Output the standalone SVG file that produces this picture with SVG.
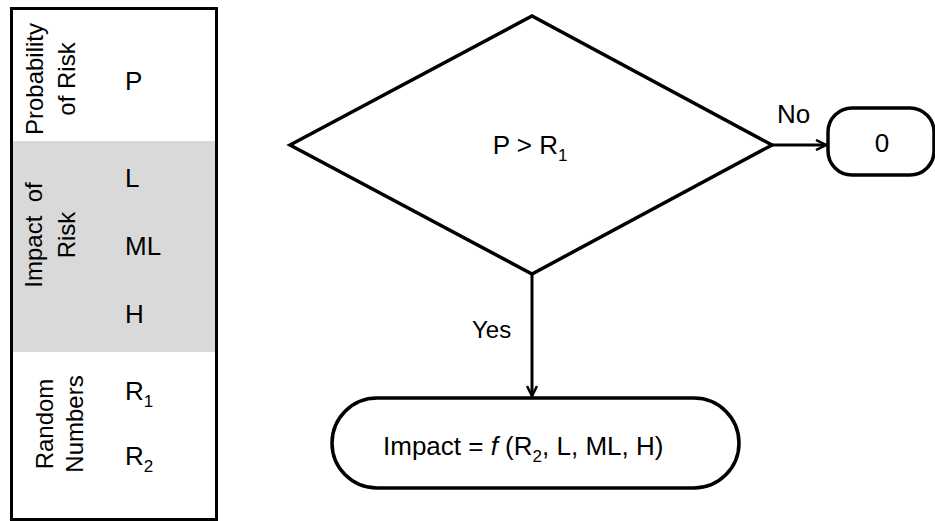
<svg xmlns="http://www.w3.org/2000/svg" width="935" height="521" viewBox="0 0 935 521">
  <style>
    text { font-family: "Liberation Sans", Arial, sans-serif; font-size: 26px; fill: #000; }
    .mid { text-anchor: middle; }
    .side { font-size: 24px; }
    .shape { fill: #fff; stroke: #000; stroke-width: 3.5; }
    .edge { fill: none; stroke: #000; stroke-width: 3; }
    .sub { font-size: 17px; }
  </style>
  <defs>
    <marker id="arrow" viewBox="0 0 12 12" refX="11" refY="6" markerWidth="12" markerHeight="12" markerUnits="userSpaceOnUse" orient="auto">
      <path d="M1,1 L11,6 L1,11" fill="none" stroke="#000" stroke-width="2.5" stroke-linejoin="miter"/>
    </marker>
  </defs>
  <rect width="935" height="521" fill="#fff"/>

  <!-- input table -->
  <g id="table">
    <rect x="13" y="141" width="204" height="211" fill="#d9d9d9"/>
    <rect x="11.5" y="8.5" width="205" height="511" fill="none" stroke="#000" stroke-width="3"/>
    <text class="mid side" transform="translate(43,79) rotate(-90)">Probability</text>
    <text class="mid side" transform="translate(75,79) rotate(-90)">of Risk</text>
    <text x="125" y="90">P</text>
    <text class="mid side" transform="translate(42,235) rotate(-90)">Impact&#160; of</text>
    <text class="mid side" transform="translate(75,235) rotate(-90)">Risk</text>
    <text x="125" y="187">L</text>
    <text x="125" y="255">ML</text>
    <text x="125" y="323">H</text>
    <text class="mid side" transform="translate(53,424) rotate(-90)">Random</text>
    <text class="mid side" transform="translate(83,424) rotate(-90)">Numbers</text>
    <text x="125" y="400">R<tspan class="sub" dy="7">1</tspan></text>
    <text x="125" y="465">R<tspan class="sub" dy="7">2</tspan></text>
  </g>

  <!-- decision -->
  <g id="decision">
    <polygon class="shape" points="290,145 532,16 772,145 532,274"/>
    <text class="mid" x="530" y="154">P &gt; R<tspan class="sub" dy="7">1</tspan></text>
  </g>

  <!-- result when no -->
  <g id="zero">
    <rect class="shape" x="828" y="108" width="106" height="67" rx="24" ry="24"/>
    <text class="mid" x="882" y="152">0</text>
  </g>

  <!-- result when yes -->
  <g id="impact">
    <rect class="shape" x="332" y="398" width="407" height="90" rx="45" ry="45"/>
    <text x="383" y="455">Impact = <tspan font-style="italic">f</tspan> (R<tspan class="sub" dy="7">2</tspan><tspan dy="-7">, L, ML, H)</tspan></text>
  </g>

  <!-- connectors -->
  <g id="connectors">
    <line class="edge" x1="772" y1="145" x2="826" y2="145" marker-end="url(#arrow)"/>
    <text x="777" y="123">No</text>
    <line class="edge" x1="532" y1="274" x2="532" y2="396" marker-end="url(#arrow)"/>
    <text class="side" x="472" y="338">Yes</text>
  </g>
</svg>
